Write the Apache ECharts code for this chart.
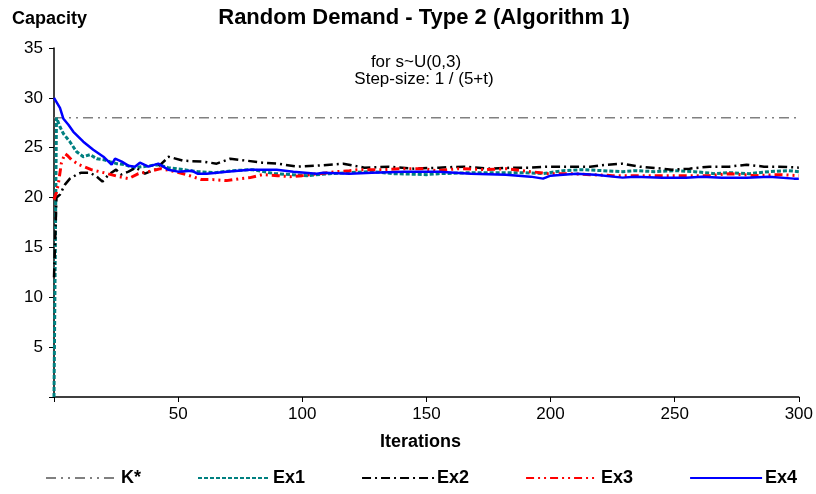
<!DOCTYPE html>
<html>
<head>
<meta charset="utf-8">
<script src="https://cdn.jsdelivr.net/npm/echarts@6/dist/echarts.min.js"></script>
<style>html,body{margin:0;padding:0;background:#fff}#c{width:816px;height:494px}</style>
</head>
<body>
<div id="c"></div>
<script>
// ---- data ----
const xTicks = [0, 50, 100, 150, 200, 250, 300];
const yTicks = [0, 5, 10, 15, 20, 25, 30, 35];

const kStarX = [0, 300];
const kStarY = [28, 28];

const ex1X = [0, 1, 2.4, 3.8, 6.4, 9.1, 11.8, 14.5, 17.2, 19.9, 22.5, 25.2, 28.6, 32, 36, 42, 46, 52, 58, 65, 72, 80, 89, 96, 102, 111, 119, 128, 137, 150, 155, 169, 180, 189, 197, 205, 213, 221, 229, 234, 242, 250, 258, 266, 272, 280, 288, 296, 300];
const ex1Y = [0, 28, 27.1, 26.4, 25.6, 24.6, 24.1, 24.3, 23.9, 23.8, 23.6, 23.4, 23.3, 23.0, 23.1, 23.3, 23.0, 22.8, 22.6, 22.5, 22.7, 22.8, 22.4, 22.3, 22.2, 22.4, 22.5, 22.6, 22.4, 22.3, 22.4, 22.5, 22.5, 22.5, 22.4, 22.7, 22.8, 22.7, 22.6, 22.7, 22.6, 22.7, 22.6, 22.4, 22.5, 22.4, 22.6, 22.7, 22.6];

const ex2X = [0, 1, 2.4, 4.4, 6.4, 9.1, 11, 14.5, 17.2, 19.5, 22, 25, 27, 30, 33, 36.6, 40.7, 45, 46, 52, 60, 65.5, 71, 77.6, 84, 90, 98, 106, 116.5, 125, 135, 145, 155, 165, 175, 185, 192, 198, 205, 216, 223, 229, 236, 245, 249, 256, 264, 272, 279, 286, 292, 300];
const ex2Y = [12, 20, 20.3, 21.3, 21.9, 22.3, 22.5, 22.5, 22.1, 21.6, 22.3, 22.8, 22.3, 22.6, 23.0, 22.4, 22.8, 23.8, 24.1, 23.7, 23.6, 23.4, 23.9, 23.7, 23.5, 23.4, 23.1, 23.2, 23.4, 23.0, 23.1, 22.9, 23.0, 23.1, 22.9, 23.0, 23.0, 23.1, 23.1, 23.1, 23.3, 23.4, 23.1, 22.9, 22.8, 22.9, 23.1, 23.1, 23.3, 23.1, 23.1, 23.0];

const ex3X = [0, 1, 1.7, 3, 4.4, 5.5, 7, 10, 15, 20, 26, 30, 34, 38, 43, 48.7, 53.4, 59.5, 64, 69.5, 75, 79, 84, 90, 95, 100, 107, 114, 119, 123, 132, 141, 149, 154, 163, 174, 182, 192, 199, 208, 216, 225, 232, 245, 258, 264, 272, 282, 292, 300];
const ex3Y = [19.8, 20.5, 21.3, 23.5, 24.4, 24.2, 23.8, 23.3, 22.8, 22.5, 22.1, 21.9, 22.4, 22.6, 22.9, 22.6, 22.3, 21.8, 21.8, 21.7, 21.9, 22.0, 22.3, 22.2, 22.1, 22.2, 22.4, 22.6, 22.7, 22.8, 22.8, 22.9, 22.9, 22.7, 22.9, 22.8, 22.9, 22.6, 22.4, 22.4, 22.3, 22.2, 22.2, 22.2, 22.2, 22.2, 22.4, 22.2, 22.3, 22.2];

const ex4X = [0, 2.4, 3.8, 5.8, 7.8, 11.8, 15.8, 19.9, 23.2, 24.6, 27.3, 29.9, 32.6, 34.6, 38, 42, 46, 50, 55.4, 57.8, 61.5, 69.5, 78.9, 89.7, 96.4, 105.8, 108.5, 119, 128, 141, 155, 168, 182, 192, 197, 200, 205, 210.5, 218, 229, 234, 245, 254.6, 261, 269, 279, 288, 298, 300];
const ex4Y = [30.0, 29.0, 27.9, 27.3, 26.6, 25.6, 24.8, 24.1, 23.3, 23.9, 23.6, 23.2, 23.1, 23.5, 23.1, 23.4, 22.8, 22.6, 22.7, 22.4, 22.4, 22.6, 22.8, 22.8, 22.6, 22.4, 22.5, 22.4, 22.5, 22.6, 22.6, 22.4, 22.3, 22.1, 21.9, 22.2, 22.3, 22.4, 22.3, 22.0, 22.1, 22.0, 22.0, 22.1, 22.0, 22.0, 22.1, 21.9, 21.9];

const seriesNames = ['K*', 'Ex1', 'Ex2', 'Ex3', 'Ex4'];
const titleText = 'Random Demand - Type 2 (Algorithm 1)';
const subLines = ['for s~U(0,3)', 'Step-size: 1 / (5+t)'];
const yName = 'Capacity';
const xName = 'Iterations';

// ---- chart ----
const FONT = "'Liberation Sans', Arial, sans-serif";
const pairs = (xs, ys) => xs.map((x, i) => [x, ys[i]]);

const styles = [
  { color: '#808080', width: 1.5, type: [10, 5, 2, 5, 2, 5] },
  { color: '#008080', width: 3, type: [4, 2] },
  { color: '#000000', width: 2.5, type: [9, 4, 2, 4] },
  { color: '#ff0000', width: 3, type: [8, 4, 2, 4, 2, 4] },
  { color: '#0000ff', width: 2.5, type: 'solid' }
];
const dataSets = [pairs(kStarX, kStarY), pairs(ex1X, ex1Y), pairs(ex2X, ex2Y), pairs(ex3X, ex3Y), pairs(ex4X, ex4Y)];

const chart = echarts.init(document.getElementById('c'), null, { renderer: 'canvas' });
chart.setOption({
  animation: false,
  backgroundColor: '#ffffff',
  textStyle: { fontFamily: FONT },
  grid: { left: 54, right: 17, top: 48, bottom: 97, containLabel: false },
  xAxis: {
    type: 'value', min: xTicks[0], max: xTicks[xTicks.length - 1], interval: 50,
    name: xName, nameLocation: 'middle', nameGap: 36,
    nameTextStyle: { fontFamily: FONT, fontSize: 18, fontWeight: 'bold', color: '#000', padding: [0, 12, 0, 0] },
    axisLine: { lineStyle: { color: '#000', width: 1.5 } },
    axisTick: { show: true, length: 5, lineStyle: { color: '#000', width: 1 } },
    axisLabel: { color: '#000', fontSize: 17, fontFamily: FONT, margin: 9, formatter: v => (v === 0 ? '' : String(v)) },
    splitLine: { show: false }
  },
  yAxis: {
    type: 'value', min: yTicks[0], max: yTicks[yTicks.length - 1], interval: 5,
    axisLine: { show: true, lineStyle: { color: '#000', width: 1.5 } },
    axisTick: { show: true, length: 5, lineStyle: { color: '#000', width: 1 } },
    axisLabel: { color: '#000', fontSize: 17, fontFamily: FONT, margin: 11, formatter: v => (v === 0 ? '' : String(v)) },
    splitLine: { show: false }
  },
  legend: {
    left: 45, top: 469, padding: 0, itemWidth: 72, itemHeight: 14, itemGap: 56,
    itemStyle: { opacity: 0 },
    textStyle: { fontFamily: FONT, fontSize: 18, fontWeight: 'bold', color: '#000', padding: [0, 0, 0, -2] },
    data: seriesNames
  },
  graphic: [
    { type: 'text', x: 424, y: 18, style: { text: titleText, textAlign: 'center', textVerticalAlign: 'middle', fontFamily: FONT, fontSize: 22, fontWeight: 'bold', fill: '#000' } },
    { type: 'text', x: 12, y: 19, style: { text: yName, textAlign: 'left', textVerticalAlign: 'middle', fontFamily: FONT, fontSize: 18, fontWeight: 'bold', fill: '#000' } },
    { type: 'text', x: 416, y: 62, style: { text: subLines[0], textAlign: 'center', textVerticalAlign: 'middle', fontFamily: FONT, fontSize: 17, fill: '#000' } },
    { type: 'text', x: 424, y: 79, style: { text: subLines[1], textAlign: 'center', textVerticalAlign: 'middle', fontFamily: FONT, fontSize: 17, fill: '#000' } }
  ],
  series: seriesNames.map((n, i) => ({
    name: n, type: 'line', data: dataSets[i], showSymbol: false, symbol: 'none',
    lineStyle: styles[i], itemStyle: { color: styles[i].color }, z: 2 + i,
    emphasis: { disabled: true }
  }))
});
</script>
</body>
</html>
